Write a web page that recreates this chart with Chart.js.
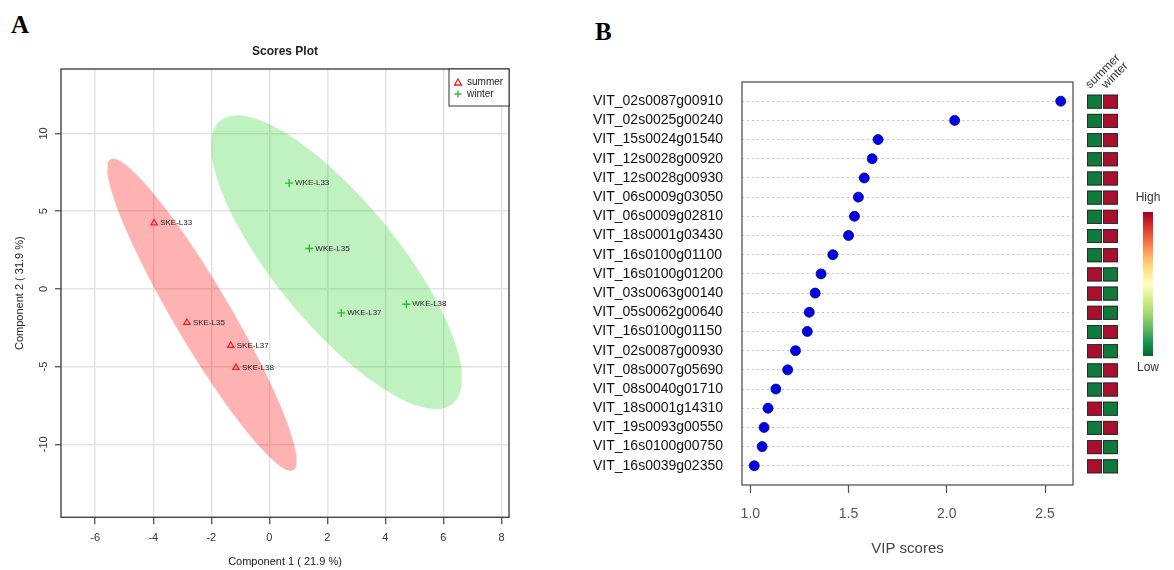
<!DOCTYPE html>
<html>
<head>
<meta charset="utf-8">
<script src="https://cdn.jsdelivr.net/npm/chart.js@4.4.1/dist/chart.umd.min.js"></script>
<style>
    body { margin: 0; background: #fff; width: 1174px; height: 570px; overflow: hidden; position: relative; }
    .panel-tag { position: absolute; font: bold 25px "Liberation Serif", "DejaVu Serif", serif; color: #000; }
    #scoresWrap { position: absolute; left: 0; top: 0; width: 580px; height: 570px; }
    #vipWrap { position: absolute; left: 580px; top: 0; width: 594px; height: 570px; }
</style>
</head>
<body>
<div class="panel-tag" style="left: 11px; top: 11px;">A</div>
<div class="panel-tag" style="left: 595px; top: 18px;">B</div>
<div id="scoresWrap"><canvas id="scoresChart" width="580" height="570"></canvas></div>
<div id="vipWrap"><canvas id="vipChart" width="594" height="570"></canvas></div>

<script>
// ---- panel A : PLS-DA scores ----
const summerNames = ['SKE-L33', 'SKE-L35', 'SKE-L37', 'SKE-L38'];
const summerX = [-3.97, -2.84, -1.33, -1.15];
const summerY = [4.23, -2.17, -3.65, -5.07];
const winterNames = ['WKE-L33', 'WKE-L35', 'WKE-L37', 'WKE-L38'];
const winterX = [0.68, 1.38, 2.48, 4.72];
const winterY = [6.81, 2.60, -1.55, -0.99];
const compXTicks = [-6, -4, -2, 0, 2, 4, 6, 8];
const compYTicks = [-10, -5, 0, 5, 10];

// ---- panel B : VIP scores ----
const genes = [
    'VIT_02s0087g00910', 'VIT_02s0025g00240', 'VIT_15s0024g01540', 'VIT_12s0028g00920',
    'VIT_12s0028g00930', 'VIT_06s0009g03050', 'VIT_06s0009g02810', 'VIT_18s0001g03430',
    'VIT_16s0100g01100', 'VIT_16s0100g01200', 'VIT_03s0063g00140', 'VIT_05s0062g00640',
    'VIT_16s0100g01150', 'VIT_02s0087g00930', 'VIT_08s0007g05690', 'VIT_08s0040g01710',
    'VIT_18s0001g14310', 'VIT_19s0093g00550', 'VIT_16s0100g00750', 'VIT_16s0039g02350'
];
const vipScores = [2.58, 2.04, 1.65, 1.62, 1.58, 1.55, 1.53, 1.50, 1.42, 1.36,
                   1.33, 1.30, 1.29, 1.23, 1.19, 1.13, 1.09, 1.07, 1.06, 1.02];
// 1 = high, 0 = low
const summerLevel = [0, 0, 0, 0, 0, 0, 0, 0, 0, 1, 1, 1, 0, 1, 0, 0, 1, 0, 1, 1];
const winterLevel = [1, 1, 1, 1, 1, 1, 1, 1, 1, 0, 0, 0, 1, 0, 1, 1, 0, 1, 0, 0];
const vipTicks = [1.0, 1.5, 2.0, 2.5];

const FONT = '"Liberation Sans", Arial, sans-serif';

// 95% confidence ellipse from the group covariance (like R ellipse::ellipse)
function confEllipse(xs, ys, level, n) {
    const m = xs.length;
    const mx = xs.reduce((a, b) => a + b, 0) / m;
    const my = ys.reduce((a, b) => a + b, 0) / m;
    let sxx = 0, syy = 0, sxy = 0;
    for (let i = 0; i < m; i++) {
        sxx += (xs[i] - mx) ** 2;
        syy += (ys[i] - my) ** 2;
        sxy += (xs[i] - mx) * (ys[i] - my);
    }
    sxx /= m - 1; syy /= m - 1; sxy /= m - 1;
    const tr = sxx + syy, det = sxx * syy - sxy * sxy;
    const disc = Math.sqrt(tr * tr / 4 - det);
    const l1 = tr / 2 + disc, l2 = tr / 2 - disc;
    const ang = Math.atan2(l1 - sxx, sxy);
    const t = Math.sqrt(-2 * Math.log(1 - level));
    const a = t * Math.sqrt(l1), b = t * Math.sqrt(Math.max(l2, 0));
    const pts = [];
    for (let k = 0; k <= n; k++) {
        const th = 2 * Math.PI * k / n;
        const u = a * Math.cos(th), v = b * Math.sin(th);
        pts.push({ x: mx + u * Math.cos(ang) - v * Math.sin(ang), y: my + u * Math.sin(ang) + v * Math.cos(ang) });
    }
    return pts;
}

const keepTicks = list => scale => { scale.ticks = list.map(v => ({ value: v })); };

const scoresDecor = {
    id: 'scoresDecor',
    afterDraw(chart) {
        const ctx = chart.ctx;
        const area = chart.chartArea;
        const ys = chart.scales.y;
        ctx.save();
        // frame
        ctx.strokeStyle = '#444';
        ctx.lineWidth = 1.4;
        ctx.strokeRect(area.left, area.top, area.right - area.left, area.bottom - area.top);

        ctx.fillStyle = '#333';
        ctx.font = '11px ' + FONT;
        ctx.textAlign = 'center';
        ctx.textBaseline = 'middle';
        ys.ticks.forEach(tk => {
            const y = ys.getPixelForValue(tk.value);
            ctx.save();
            ctx.translate(44, y);
            ctx.rotate(-Math.PI / 2);
            ctx.fillText(String(tk.value), 0, 0);
            ctx.restore();
        });

        // titles
        ctx.fillStyle = '#222';
        ctx.fillText('Component 1 ( 21.9 %)', (area.left + area.right) / 2, 562);
        ctx.save();
        ctx.translate(20, (area.top + area.bottom) / 2);
        ctx.rotate(-Math.PI / 2);
        ctx.fillText('Component 2 ( 31.9 %)', 0, 0);
        ctx.restore();
        ctx.font = 'bold 12px ' + FONT;
        ctx.fillText('Scores Plot', (area.left + area.right) / 2, 52);

        // sample labels
        ctx.font = '8px ' + FONT;
        ctx.textAlign = 'left';
        ctx.fillStyle = '#222';
        [[0, summerNames], [1, winterNames]].forEach(([di, names]) => {
            chart.getDatasetMeta(di).data.forEach((pt, i) => {
                ctx.fillText(names[i], pt.x + 6, pt.y);
            });
        });

        // legend
        const lw = 60, lh = 37;
        const lx = area.right - lw, ly = area.top;
        ctx.fillStyle = '#fff';
        ctx.fillRect(lx, ly, lw, lh);
        ctx.strokeStyle = '#333';
        ctx.lineWidth = 1;
        ctx.strokeRect(lx, ly, lw, lh);
        ctx.lineWidth = 1.3;
        ctx.strokeStyle = '#ee2222';
        ctx.beginPath();
        ctx.moveTo(lx + 9, ly + 10);
        ctx.lineTo(lx + 12.5, ly + 16);
        ctx.lineTo(lx + 5.5, ly + 16);
        ctx.closePath();
        ctx.stroke();
        ctx.strokeStyle = '#22c022';
        ctx.beginPath();
        ctx.moveTo(lx + 5.5, ly + 25); ctx.lineTo(lx + 12.5, ly + 25);
        ctx.moveTo(lx + 9, ly + 21.5); ctx.lineTo(lx + 9, ly + 28.5);
        ctx.stroke();
        ctx.fillStyle = '#222';
        ctx.font = '10px ' + FONT;
        ctx.fillText(chart.data.datasets[0].label, lx + 18, ly + 13);
        ctx.fillText(chart.data.datasets[1].label, lx + 18, ly + 25);
        ctx.restore();
    }
};

new Chart(document.getElementById('scoresChart'), {
    type: 'scatter',
    data: {
        datasets: [
            {
                label: 'summer',
                data: summerX.map((x, i) => ({ x, y: summerY[i] })),
                pointStyle: 'triangle',
                pointRadius: 3.6,
                borderColor: '#ee2222',
                backgroundColor: 'transparent',
                borderWidth: 1.3
            },
            {
                label: 'winter',
                data: winterX.map((x, i) => ({ x, y: winterY[i] })),
                pointStyle: 'cross',
                pointRadius: 4,
                borderColor: '#22c022',
                backgroundColor: 'transparent',
                borderWidth: 1.3
            },
            {
                label: 'summer ellipse',
                data: confEllipse(summerX, summerY, 0.95, 120),
                showLine: true,
                fill: 'shape',
                pointRadius: 0,
                borderColor: 'transparent',
                borderWidth: 0,
                backgroundColor: 'rgba(255, 0, 0, 0.3)',
                tension: 0
            },
            {
                label: 'winter ellipse',
                data: confEllipse(winterX, winterY, 0.95, 120),
                showLine: true,
                fill: 'shape',
                pointRadius: 0,
                borderColor: 'transparent',
                borderWidth: 0,
                backgroundColor: 'rgba(0, 205, 0, 0.25)',
                tension: 0
            }
        ]
    },
    options: {
        responsive: false,
        animation: false,
        events: [],
        layout: { padding: { left: 0, right: 71, top: 69, bottom: 0 } },
        plugins: { legend: { display: false }, tooltip: { enabled: false } },
        scales: {
            x: {
                min: -7.18,
                max: 8.26,
                afterBuildTicks: keepTicks(compXTicks),
                afterFit: s => { s.height = 52.7; },
                border: { display: false },
                grid: { color: '#e4e4e4', lineWidth: 1.5, tickColor: '#444', tickLength: 7, tickWidth: 1.2 },
                ticks: { color: '#333', font: { size: 11, family: FONT }, padding: 7, maxRotation: 0 }
            },
            y: {
                min: -14.70,
                max: 14.15,
                afterBuildTicks: keepTicks(compYTicks),
                afterFit: s => { s.width = 61; },
                border: { display: false },
                grid: { color: '#e4e4e4', lineWidth: 1.5, tickColor: '#444', tickLength: 6, tickWidth: 1.2 },
                ticks: { display: false }
            }
        }
    },
    plugins: [scoresDecor]
});

// ---- VIP chart ----
const vipMin = Math.min(...vipScores), vipMax = Math.max(...vipScores);
const vipPad = (vipMax - vipMin) * 0.04;

const vipDecor = {
    id: 'vipDecor',
    afterDraw(chart) {
        const ctx = chart.ctx;
        const area = chart.chartArea;
        const ys = chart.scales.y;
        ctx.save();
        ctx.strokeStyle = '#555';
        ctx.lineWidth = 1.3;
        ctx.strokeRect(area.left, area.top, area.right - area.left, area.bottom - area.top);

        ctx.fillStyle = '#444';
        ctx.font = '15px ' + FONT;
        ctx.textAlign = 'center';
        ctx.textBaseline = 'middle';
        ctx.fillText('VIP scores', (area.left + area.right) / 2, 549);

        // heatmap cells
        const cw = 15, ch = 14;
        const colX = [area.right + 14, area.right + 30];
        const levels = [summerLevel, winterLevel];
        genes.forEach((g, i) => {
            const cy = ys.getPixelForValue(i + 1);
            levels.forEach((lv, c) => {
                ctx.fillStyle = lv[i] ? '#ab0f2e' : '#0f7a3c';
                ctx.fillRect(colX[c], cy - ch / 2 + 0.5, cw, ch);
                ctx.strokeStyle = '#2a2a2a';
                ctx.lineWidth = 1;
                ctx.strokeRect(colX[c] + 0.5, cy - ch / 2 + 1, cw - 1, ch - 1);
            });
        });

        // column labels
        ctx.fillStyle = '#333';
        ctx.font = '12px ' + FONT;
        ctx.textAlign = 'left';
        ctx.textBaseline = 'alphabetic';
        ['summer', 'winter'].forEach((name, c) => {
            ctx.save();
            ctx.translate(colX[c] + 3, area.top + 7);
            ctx.rotate(-Math.PI / 4);
            ctx.fillText(name, 0, 0);
            ctx.restore();
        });

        // colour key
        const bx = area.right + 70, bTop = 212, bBot = 356;
        const grad = ctx.createLinearGradient(0, bTop, 0, bBot);
        ['#a50026', '#d73027', '#f46d43', '#fdae61', '#fee08b', '#ffffbf',
         '#d9ef8b', '#a6d96a', '#66bd63', '#1a9850', '#006837'].forEach((c, k, arr) => {
            grad.addColorStop(k / (arr.length - 1), c);
        });
        ctx.fillStyle = grad;
        ctx.fillRect(bx, bTop, 10, bBot - bTop);
        ctx.fillStyle = '#333';
        ctx.textAlign = 'center';
        ctx.textBaseline = 'middle';
        ctx.font = '12px ' + FONT;
        ctx.fillText('High', bx + 5, 198);
        ctx.fillText('Low', bx + 5, 368);
        ctx.restore();
    }
};

new Chart(document.getElementById('vipChart'), {
    type: 'scatter',
    data: {
        datasets: [{
            label: 'VIP',
            data: vipScores.map((v, i) => ({ x: v, y: i + 1 })),
            pointRadius: 5,
            backgroundColor: '#0000e6',
            borderColor: '#00008a',
            borderWidth: 0.8
        }]
    },
    options: {
        responsive: false,
        animation: false,
        events: [],
        layout: { padding: { left: 13, right: 101, top: 82, bottom: 0 } },
        plugins: { legend: { display: false }, tooltip: { enabled: false } },
        scales: {
            x: {
                min: vipMin - vipPad,
                max: vipMax + vipPad,
                afterBuildTicks: keepTicks(vipTicks),
                afterFit: s => { s.height = 85; },
                border: { display: false },
                grid: { drawOnChartArea: false, tickColor: '#555', tickLength: 8, tickWidth: 1.2 },
                ticks: { color: '#555', font: { size: 14, family: FONT }, padding: 13, maxRotation: 0,
                         callback: v => Number(v).toFixed(1) }
            },
            y: {
                reverse: true,
                min: 0,
                max: genes.length + 1,
                afterBuildTicks: keepTicks(genes.map((g, i) => i + 1)),
                afterFit: s => { s.width = 149; },
                border: { display: false, dash: [2, 3] },
                grid: { color: '#c4c4c4', lineWidth: 1, drawTicks: false },
                ticks: { color: '#111', font: { size: 14, family: FONT }, crossAlign: 'far', autoSkip: false,
                         callback: v => genes[v - 1] }
            }
        }
    },
    plugins: [vipDecor]
});
</script>
</body>
</html>
